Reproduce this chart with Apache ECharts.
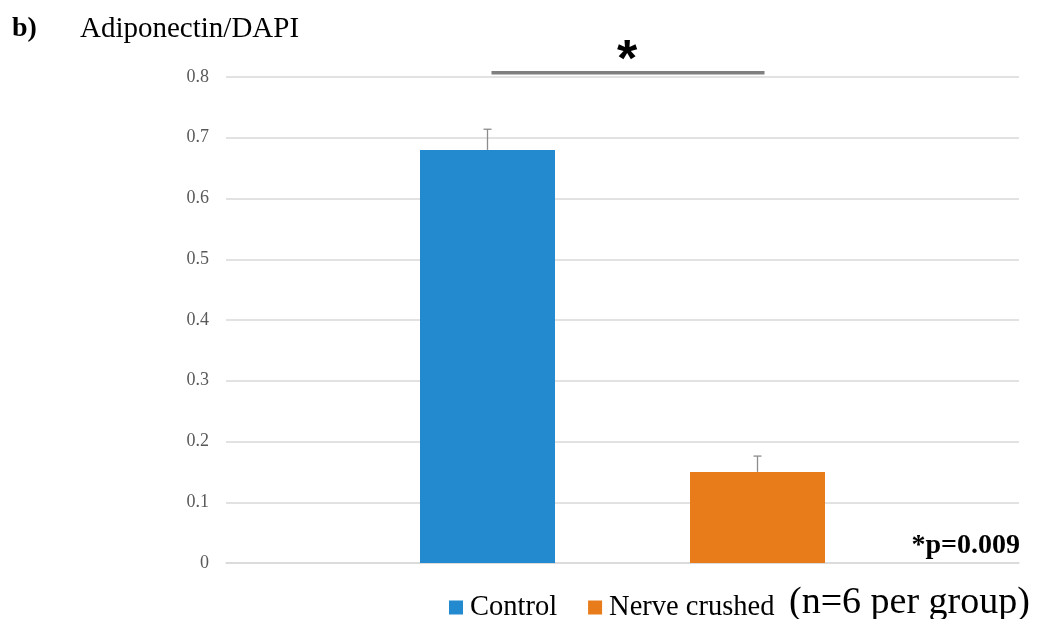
<!DOCTYPE html>
<html><head><meta charset="utf-8">
<script src="https://cdn.jsdelivr.net/npm/echarts@6/dist/echarts.min.js"></script>
<style>html,body{margin:0;padding:0;background:#fff}#c{width:1040px;height:619px}</style>
</head><body><div id="c"></div>
<script>
const categories = ['Adiponectin/DAPI'];
const seriesNames = ['Control', 'Nerve crushed'];
const controlValues = [0.68];
const crushedValues = [0.15];
const controlErrors = [0.034];
const crushedErrors = [0.026];
const yTicks = [0, 0.1, 0.2, 0.3, 0.4, 0.5, 0.6, 0.7, 0.8];
const sigLevel = [0.807];
const sigText = '*';
const pText = '*p=0.009';
const nText = '(n=6 per group)';

const BAR_W = 135;
const colors = ['#238ACF', '#E87B1A'];
const serif = 'Liberation Serif, Times New Roman, serif';

const chart = echarts.init(document.getElementById('c'), null, {renderer: 'canvas'});

function errItem(offsetSign, values, errors) {
  return function (params, api) {
    const v = values[params.dataIndex], e = errors[params.dataIndex];
    const base = api.coord([params.dataIndex, v]);
    const top = api.coord([params.dataIndex, v + e]);
    const x = base[0] + offsetSign * BAR_W;
    const style = {stroke: '#8c8c8c', lineWidth: 1.3};
    return {type: 'group', children: [
      {type: 'line', shape: {x1: x, y1: base[1], x2: x, y2: top[1]}, style},
      {type: 'line', shape: {x1: x - 4, y1: top[1], x2: x + 4, y2: top[1]}, style}
    ]};
  };
}

chart.setOption({
  animation: false,
  grid: {left: 226, right: 21, top: 77, bottom: 56},
  title: [
    {text: 'b)', left: 7, top: 10, textStyle: {fontFamily: serif, fontSize: 28, fontWeight: 'bold', color: '#000'}},
    {text: categories[0], left: 75, top: 10, textStyle: {fontFamily: serif, fontSize: 29, fontWeight: 'normal', color: '#000'}}
  ],
  legend: {
    left: 444, top: 588, icon: 'rect', itemWidth: 14, itemHeight: 14, itemGap: 31,
    data: seriesNames,
    textStyle: {fontFamily: serif, fontSize: 28.5, color: '#000', padding: [0, 0, 0, 2]}
  },
  xAxis: {
    type: 'category', data: categories,
    axisLine: {show: true, lineStyle: {color: '#d9d9d9', width: 1.5}},
    axisTick: {show: false}, axisLabel: {show: false}
  },
  yAxis: {
    type: 'value', min: 0, max: 0.8, interval: 0.1,
    axisLine: {show: false}, axisTick: {show: false},
    axisLabel: {fontFamily: serif, fontSize: 18, color: '#595959', margin: 17,
      formatter: v => { const t = yTicks.find(x => Math.abs(x - v) < 1e-9); return t === 0 ? '0' : String(t); }},
    splitLine: {lineStyle: {color: '#d9d9d9', width: 1.5}}
  },
  series: [
    {name: seriesNames[0], type: 'bar', data: controlValues, barWidth: BAR_W, barGap: '100%', itemStyle: {color: colors[0]}},
    {name: seriesNames[1], type: 'bar', data: crushedValues, barWidth: BAR_W, barGap: '100%', itemStyle: {color: colors[1]}},
    {type: 'custom', data: controlValues, renderItem: errItem(-1, controlValues, controlErrors), z: 5, silent: true},
    {type: 'custom', data: crushedValues, renderItem: errItem(1, crushedValues, crushedErrors), z: 5, silent: true},
    {type: 'custom', data: sigLevel, z: 6, silent: true,
      renderItem: function (params, api) {
        const p = api.coord([0, sigLevel[0]]);
        const x1 = p[0] - BAR_W + 4, x2 = p[0] + BAR_W + 7;
        return {type: 'group', children: [
          {type: 'line', shape: {x1, y1: p[1], x2, y2: p[1]}, style: {stroke: '#808080', lineWidth: 3.5}},
          {type: 'text', x: (x1 + x2) / 2 - 1, y: p[1] + 15, style: {text: sigText, fontFamily: 'Liberation Sans, Arial, sans-serif', fontWeight: 'bold', fontSize: 52, fill: '#000', align: 'center', verticalAlign: 'bottom'}}
        ]};
      }}
  ],
  graphic: [
    {type: 'text', right: 20, top: 532, style: {text: pText, fontFamily: serif, fontSize: 28, fontWeight: 'bold', fill: '#000'}},
    {type: 'text', left: 789, top: 584, style: {text: nText, fontFamily: serif, fontSize: 38, fill: '#000'}}
  ]
});
</script></body></html>
